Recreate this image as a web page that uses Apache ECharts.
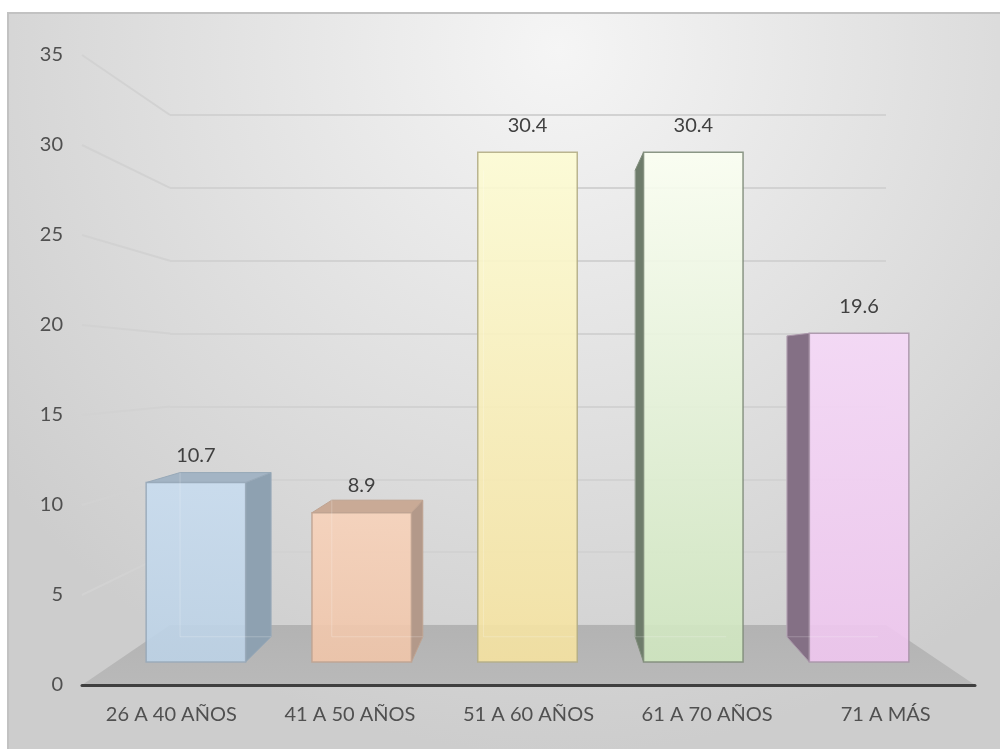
<!DOCTYPE html>
<html>
<head>
<meta charset="utf-8">
<script src="https://cdn.jsdelivr.net/npm/echarts@6.0.0/dist/echarts.min.js"></script>
<style>
  html, body { margin: 0; padding: 0; background: #ffffff; }
  #chart { width: 1000px; height: 749px; }
</style>
</head>
<body>
<div id="chart"></div>
<script>
// data
const categories = ["26 A 40 AÑOS", "41 A 50 AÑOS", "51 A 60 AÑOS", "61 A 70 AÑOS", "71 A MÁS"];
const values = [10.7, 8.9, 30.4, 30.4, 19.6];
const yTicks = [0, 5, 10, 15, 20, 25, 30, 35];

// layout: label plane, front plane of the bars, back wall
const GRID_LABEL = { left: 82, right: 25, top: 55, bottom: 64 };
const GRID_FRONT = { left: 113, right: 58, top: 75, bottom: 87 };
const GRID_BACK = { left: 170, right: 114, top: 115, bottom: 124 };
const VP = [545, 365];   // vanishing point of the fake perspective
const DEPTH = 0.085;
const FONT = "Lato";

const barStyles = [
  { top: "#c8dcef", bottom: "#bcd2e6", side: "#8ea1b1", cap: "#a3b4c4", edge: "#98a9b8" },
  { top: "#f7d2ba", bottom: "#f0c5a9", side: "#b3998a", cap: "#c9aa96", edge: "#bfa391" },
  { top: "#fdfcd4", bottom: "#f5e2a0", side: "#b0aa80", cap: "#c9c399", edge: "#b3ad86" },
  { top: "#fbfff2", bottom: "#cfe6bf", side: "#6e7c6b", cap: "#8b9a88", edge: "#7f8c7a" },
  { top: "#f5d8f7", bottom: "#efc6ef", side: "#847085", cap: "#9c879d", edge: "#a995a9" }
];

const chart = echarts.init(document.getElementById("chart"));

function toBack(p) {
  return [p[0] + DEPTH * (VP[0] - p[0]), p[1] + DEPTH * (VP[1] - p[1])];
}

function renderBar(params, api) {
  const i = api.value(0);
  const v = api.value(1);
  const topPt = api.coord([i, v]);
  const basePt = api.coord([i, 0]);
  const w = api.size([1, 0])[0] * 0.6;
  const x0 = topPt[0] - w / 2, x1 = topPt[0] + w / 2;
  const y0 = topPt[1], y1 = basePt[1];
  const tl = [x0, y0], tr = [x1, y0], br = [x1, y1], bl = [x0, y1];
  const btl = toBack(tl), btr = toBack(tr), bbr = toBack(br), bbl = toBack(bl);
  const s = barStyles[i];
  const kids = [];

  if (btl[0] < x0) {
    kids.push({ type: "polygon", shape: { points: [tl, btl, bbl, bl] },
      style: { fill: s.side, stroke: s.edge, lineWidth: 1 } });
  }
  if (btr[0] > x1) {
    kids.push({ type: "polygon", shape: { points: [tr, btr, bbr, br] },
      style: { fill: s.side, stroke: s.edge, lineWidth: 1 } });
  }
  if (btl[1] < y0) {
    kids.push({ type: "polygon", shape: { points: [tl, tr, btr, btl] },
      style: { fill: s.cap, stroke: s.edge, lineWidth: 1 } });
  }
  // front face, slightly see-through
  kids.push({
    type: "rect",
    shape: { x: x0, y: y0, width: x1 - x0, height: y1 - y0 },
    style: {
      fill: new echarts.graphic.LinearGradient(0, 0, 0, 1, [
        { offset: 0, color: s.top },
        { offset: 1, color: s.bottom }
      ]),
      stroke: s.edge, lineWidth: 1.5, opacity: 0.9
    }
  });
  // back edges seen through the front face
  kids.push({ type: "polyline", shape: { points: [btl, bbl, bbr] },
    style: { stroke: "rgba(255,255,255,0.22)", lineWidth: 1, fill: null } });
  kids.push({
    type: "text",
    style: {
      text: String(v), x: topPt[0], y: y0 - 27,
      align: "center", verticalAlign: "middle",
      fill: "#404040", font: "20px " + FONT
    }
  });
  return { type: "group", children: kids };
}

const barSeries = {
  type: "custom",
  xAxisIndex: 1,
  yAxisIndex: 1,
  z: 5,
  clip: false,
  data: values.map((v, i) => [i, v]),
  renderItem: renderBar
};

chart.setOption({
  animation: false,
  backgroundColor: "#ffffff",
  graphic: [
    {
      type: "rect", z: -10, silent: true,
      shape: { x: 8, y: 13, width: 1000, height: 740 },
      style: {
        fill: new echarts.graphic.RadialGradient(0.55, 0.05, 0.95, [
          { offset: 0, color: "#f5f5f5" },
          { offset: 1, color: "#cdcdcd" }
        ]),
        stroke: "#c2c2c2", lineWidth: 2
      }
    }
  ],
  grid: [
    Object.assign({}, GRID_LABEL),
    Object.assign({}, GRID_FRONT),
    Object.assign({}, GRID_BACK)
  ],
  xAxis: [
    {
      gridIndex: 0, type: "category", data: categories, z: 10,
      axisLine: { show: true, lineStyle: { color: "#3f3f3f", width: 3 } },
      axisTick: { show: false },
      axisLabel: { color: "#505050", fontSize: 20, fontFamily: FONT, margin: 20 }
    },
    { gridIndex: 1, type: "category", data: categories, show: false },
    { gridIndex: 2, type: "category", data: categories, show: false }
  ],
  yAxis: [
    {
      gridIndex: 0, type: "value", min: 0, max: 35, interval: 5,
      axisLine: { show: false }, axisTick: { show: false }, splitLine: { show: false },
      axisLabel: { color: "#505050", fontSize: 20, fontFamily: FONT, margin: 19 }
    },
    { gridIndex: 1, type: "value", min: 0, max: 35, interval: 5, show: false },
    {
      gridIndex: 2, type: "value", min: 0, max: 35, interval: 5,
      axisLine: { show: false }, axisTick: { show: false }, axisLabel: { show: false },
      splitLine: { show: true, lineStyle: { color: "#d2d2d2", width: 2 } }
    }
  ],
  series: [barSeries]
});

// second pass: floor and the side-wall gridlines, placed through the axes' pixel mapping
const yLab = v => chart.convertToPixel({ yAxisIndex: 0 }, v);
const yBack = v => chart.convertToPixel({ yAxisIndex: 2 }, v);
const frontL = GRID_LABEL.left, frontR = 1000 - GRID_LABEL.right;
const backL = GRID_BACK.left, backR = 1000 - GRID_BACK.right;

const diagData = yTicks.filter(v => v > 0).map(v => [frontL, yLab(v), backL, yBack(v)]);
const floorData = [[frontL, yLab(0), frontR, yLab(0), backR, yBack(0), backL, yBack(0)]];

chart.setOption({
  series: [
    barSeries,
    {
      type: "custom", coordinateSystem: "none", z: 1, silent: true,
      data: diagData,
      renderItem: (p, api) => ({
        type: "line",
        shape: { x1: api.value(0), y1: api.value(1), x2: api.value(2), y2: api.value(3) },
        style: { stroke: "#d2d2d2", lineWidth: 2 }
      })
    },
    {
      type: "custom", coordinateSystem: "none", z: 3, silent: true,
      data: floorData,
      renderItem: (p, api) => ({
        type: "polygon",
        shape: { points: [
          [api.value(0), api.value(1)], [api.value(2), api.value(3)],
          [api.value(4), api.value(5)], [api.value(6), api.value(7)]
        ] },
        style: {
          fill: new echarts.graphic.LinearGradient(0, 0, 0, 1, [
            { offset: 0, color: "#b3b3b3" },
            { offset: 1, color: "#b9b9b9" }
          ])
        }
      })
    }
  ]
});
</script>
</body>
</html>
